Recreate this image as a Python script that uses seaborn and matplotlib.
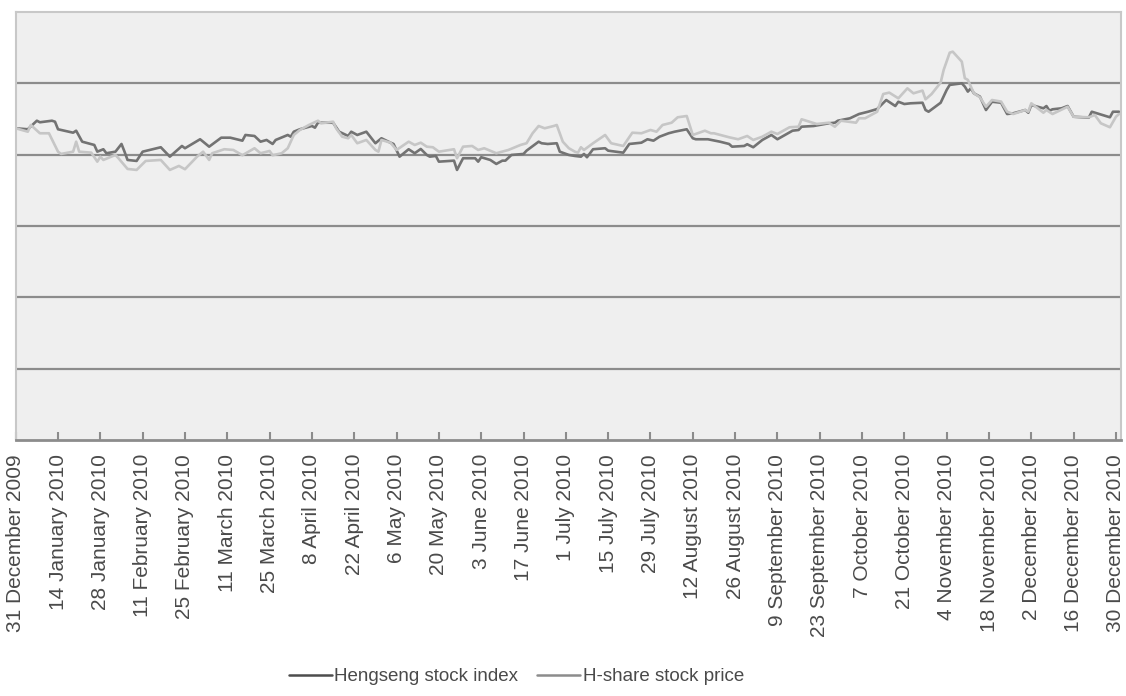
import matplotlib
matplotlib.use("Agg")
import matplotlib.pyplot as plt
import seaborn as sns
import pandas as pd

# ---------------- data ----------------
series_names = ["Hengseng stock index", "H-share stock price"]

hsi_dates = [
    "2009-12-31", "2010-01-04", "2010-01-07", "2010-01-08", "2010-01-12", "2010-01-13", "2010-01-14",
    "2010-01-19", "2010-01-20", "2010-01-22", "2010-01-26", "2010-01-27", "2010-01-29", "2010-01-30",
    "2010-02-02", "2010-02-04", "2010-02-05", "2010-02-06", "2010-02-09", "2010-02-11", "2010-02-17",
    "2010-02-20", "2010-02-24", "2010-02-25", "2010-03-02", "2010-03-03", "2010-03-05", "2010-03-09",
    "2010-03-12", "2010-03-16", "2010-03-17", "2010-03-20", "2010-03-22", "2010-03-24", "2010-03-26",
    "2010-03-27", "2010-03-31", "2010-04-01", "2010-04-02", "2010-04-04", "2010-04-08", "2010-04-09",
    "2010-04-10", "2010-04-15", "2010-04-16", "2010-04-17", "2010-04-20", "2010-04-21", "2010-04-23",
    "2010-04-26", "2010-04-29", "2010-05-01", "2010-05-04", "2010-05-05", "2010-05-07", "2010-05-10",
    "2010-05-12", "2010-05-14", "2010-05-16", "2010-05-17", "2010-05-19", "2010-05-20", "2010-05-25",
    "2010-05-26", "2010-05-28", "2010-06-01", "2010-06-02", "2010-06-03", "2010-06-06", "2010-06-08",
    "2010-06-10", "2010-06-11", "2010-06-13", "2010-06-17", "2010-06-18", "2010-06-22", "2010-06-23",
    "2010-06-25", "2010-06-28", "2010-06-29", "2010-07-02", "2010-07-04", "2010-07-06", "2010-07-07",
    "2010-07-08", "2010-07-10", "2010-07-14", "2010-07-15", "2010-07-20", "2010-07-22", "2010-07-26",
    "2010-07-28", "2010-07-30", "2010-08-01", "2010-08-04", "2010-08-06", "2010-08-10", "2010-08-12",
    "2010-08-13", "2010-08-17", "2010-08-21", "2010-08-24", "2010-08-25", "2010-08-29", "2010-08-30",
    "2010-09-01", "2010-09-04", "2010-09-07", "2010-09-09", "2010-09-14", "2010-09-16", "2010-09-17",
    "2010-09-21", "2010-09-26", "2010-09-28", "2010-09-29", "2010-10-03", "2010-10-06", "2010-10-09",
    "2010-10-12", "2010-10-15", "2010-10-18", "2010-10-19", "2010-10-21", "2010-10-23", "2010-10-27",
    "2010-10-28", "2010-10-29", "2010-11-02", "2010-11-04", "2010-11-05", "2010-11-09", "2010-11-10",
    "2010-11-11", "2010-11-12", "2010-11-13", "2010-11-15", "2010-11-17", "2010-11-19", "2010-11-22",
    "2010-11-24", "2010-11-26", "2010-11-30", "2010-12-01", "2010-12-02", "2010-12-06", "2010-12-07",
    "2010-12-08", "2010-12-09", "2010-12-12", "2010-12-14", "2010-12-16", "2010-12-21", "2010-12-22",
    "2010-12-28", "2010-12-29", "2010-12-31",
]
hsi_values = [
    21850, 21780, 22380, 22270, 22380, 22310, 21780,
    21540, 21680, 20910, 20680, 20210, 20380, 20100,
    20210, 20750, 20210, 19630, 19560, 20210, 20520,
    19860, 20610, 20450, 21080, 20910, 20560, 21190,
    21190, 20980, 21380, 21310, 20910, 21030, 20750,
    21030, 21380, 21260, 21610, 21780, 22010, 21890,
    22240, 22240, 21920, 21610, 21310, 21610, 21380,
    21610, 20800, 21150, 20840, 20750, 19860, 20380,
    20100, 20400, 19980, 19860, 19910, 19510, 19580,
    18930, 19750, 19750, 19510, 19820, 19630, 19350,
    19580, 19580, 19980, 20050, 20280, 20910, 20800,
    20750, 20800, 20210, 19980, 19910, 19860, 20050,
    19820, 20380, 20450, 20280, 20140, 20750, 20840,
    21080, 20980, 21260, 21500, 21610, 21780, 21150,
    21080, 21080, 20910, 20750, 20560, 20610, 20730,
    20520, 21030, 21380, 21080, 21680, 21730, 21960,
    22010, 22200, 22240, 22380, 22550, 22850, 23010,
    23200, 23830, 23410, 23710, 23550, 23600, 23640,
    23130, 23010, 23640, 24540, 24890, 25000, 24770,
    24420, 24650, 24300, 24070, 23130, 23710, 23640,
    22850, 22900, 23130, 22940, 23480, 23250, 23410,
    23080, 23180, 23250, 23410, 22660, 22590, 23010,
    22620, 23010, 23010,
]

hshare_dates = [
    "2009-12-31", "2010-01-04", "2010-01-05", "2010-01-08", "2010-01-11", "2010-01-14", "2010-01-15",
    "2010-01-19", "2010-01-20", "2010-01-21", "2010-01-25", "2010-01-27", "2010-01-28", "2010-01-29",
    "2010-02-02", "2010-02-03", "2010-02-06", "2010-02-09", "2010-02-12", "2010-02-17", "2010-02-20",
    "2010-02-23", "2010-02-25", "2010-03-01", "2010-03-03", "2010-03-05", "2010-03-06", "2010-03-10",
    "2010-03-13", "2010-03-16", "2010-03-20", "2010-03-22", "2010-03-25", "2010-03-26", "2010-03-29",
    "2010-03-31", "2010-04-02", "2010-04-04", "2010-04-07", "2010-04-10", "2010-04-11", "2010-04-15",
    "2010-04-16", "2010-04-18", "2010-04-20", "2010-04-21", "2010-04-23", "2010-04-26", "2010-04-29",
    "2010-04-30", "2010-05-01", "2010-05-04", "2010-05-06", "2010-05-10", "2010-05-12", "2010-05-14",
    "2010-05-16", "2010-05-18", "2010-05-20", "2010-05-25", "2010-05-26", "2010-05-28", "2010-05-31",
    "2010-06-02", "2010-06-04", "2010-06-08", "2010-06-12", "2010-06-16", "2010-06-18", "2010-06-20",
    "2010-06-22", "2010-06-24", "2010-06-27", "2010-06-28", "2010-06-30", "2010-07-02", "2010-07-04",
    "2010-07-05", "2010-07-06", "2010-07-07", "2010-07-10", "2010-07-14", "2010-07-16", "2010-07-20",
    "2010-07-23", "2010-07-26", "2010-07-29", "2010-07-31", "2010-08-02", "2010-08-05", "2010-08-07",
    "2010-08-10", "2010-08-12", "2010-08-16", "2010-08-18", "2010-08-19", "2010-08-24", "2010-08-27",
    "2010-08-30", "2010-09-01", "2010-09-04", "2010-09-07", "2010-09-09", "2010-09-13", "2010-09-16",
    "2010-09-17", "2010-09-22", "2010-09-26", "2010-09-28", "2010-09-30", "2010-10-05", "2010-10-06",
    "2010-10-08", "2010-10-12", "2010-10-14", "2010-10-16", "2010-10-19", "2010-10-22", "2010-10-24",
    "2010-10-27", "2010-10-28", "2010-10-30", "2010-11-02", "2010-11-03", "2010-11-05", "2010-11-06",
    "2010-11-09", "2010-11-10", "2010-11-11", "2010-11-13", "2010-11-15", "2010-11-17", "2010-11-19",
    "2010-11-22", "2010-11-24", "2010-11-26", "2010-11-30", "2010-12-01", "2010-12-02", "2010-12-06",
    "2010-12-07", "2010-12-09", "2010-12-14", "2010-12-16", "2010-12-21", "2010-12-23", "2010-12-25",
    "2010-12-28", "2010-12-30", "2010-12-31",
]
hshare_values = [
    21850, 21610, 22080, 21500, 21500, 20210, 20050,
    20210, 20910, 20210, 20140, 19510, 19860, 19630,
    19980, 19750, 19000, 18930, 19560, 19630, 18930,
    19210, 18980, 19860, 20210, 19630, 20100, 20380,
    20330, 19960, 20450, 20100, 20260, 19960, 20100,
    20450, 21380, 21730, 22080, 22380, 22200, 22310,
    21850, 21260, 21150, 21380, 20800, 21030, 20330,
    20210, 21030, 20840, 20330, 20910, 20680, 20840,
    20560, 20520, 20210, 20380, 19750, 20560, 20610,
    20330, 20450, 20100, 20330, 20680, 20800, 21500,
    22010, 21850, 22010, 22080, 20910, 20450, 20210,
    20140, 20520, 20330, 20800, 21380, 20800, 20610,
    21540, 21500, 21730, 21610, 22080, 22240, 22620,
    22710, 21380, 21680, 21500, 21500, 21220, 21080,
    21310, 21030, 21260, 21610, 21450, 21920, 21960,
    22480, 22150, 22240, 21960, 22380, 22240, 22550,
    22550, 23010, 24250, 24350, 23950, 24650, 24300,
    24490, 23880, 24250, 25050, 25940, 27150, 27220,
    26520, 25360, 25240, 24300, 24020, 23360, 23830,
    23720, 23010, 22850, 23130, 23010, 23600, 22940,
    23130, 22850, 23360, 22660, 22620, 22780, 22200,
    21920, 22660, 22850,
]

tick_labels = [
    "31 December 2009", "14 January 2010", "28 January 2010", "11 February 2010",
    "25 February 2010", "11 March 2010", "25 March 2010", "8 April 2010", "22 April 2010",
    "6 May 2010", "20 May 2010", "3 June 2010", "17 June 2010", "1 July 2010",
    "15 July 2010", "29 July 2010", "12 August 2010", "26 August 2010",
    "9 September 2010", "23 September 2010", "7 October 2010", "21 October 2010",
    "4 November 2010", "18 November 2010", "2 December 2010", "16 December 2010",
    "30 December 2010",
]
grid_values = [5000, 10000, 15000, 20000, 25000]

# ---------------- build frame ----------------
df = pd.concat([
    pd.DataFrame({"date": pd.to_datetime(hsi_dates), "value": hsi_values,
                  "series": series_names[0]}),
    pd.DataFrame({"date": pd.to_datetime(hshare_dates), "value": hshare_values,
                  "series": series_names[1]}),
], ignore_index=True)

# ---------------- style ----------------
sns.set_theme(style="white")
plt.rcParams["font.family"] = ["Liberation Sans", "DejaVu Sans"]

fig = plt.figure(figsize=(11.26, 6.96), dpi=100)
L, R, T, B = 15.7 / 1126, 1121 / 1126, 1 - 12 / 696, 1 - 440 / 696
ax = fig.add_axes([L, B, R - L, T - B])
ax.set_facecolor("#efefef")

line_colors = {series_names[0]: "#737373", series_names[1]: "#c6c6c6"}
sns.lineplot(data=df, x="date", y="value", hue="series", palette=line_colors,
             hue_order=series_names, linewidth=1.9, ax=ax, legend=True,
             estimator=None, sort=True)

ax.set_ylim(0, 30000)
ax.set_yticks(grid_values)
ax.set_yticklabels([])
ax.tick_params(axis="y", length=0)
ax.yaxis.grid(True, color="#8c8c8c", linewidth=1.6)
ax.xaxis.grid(False)
ax.set_axisbelow(True)

tick_pos = pd.to_datetime(tick_labels, format="%d %B %Y")
ax.set_xlim(pd.Timestamp("2009-12-31"), pd.Timestamp("2010-12-31 16:00"))
ax.set_xticks(tick_pos)
ax.set_xticklabels(tick_labels, rotation=90, fontsize=15, color="#4a4a4a")
ax.tick_params(axis="x", direction="in", length=6, width=1.5, color="#8c8c8c",
               pad=10, bottom=True)
ax.set_xlabel("")
ax.set_ylabel("")

for s in ["top", "left", "right"]:
    ax.spines[s].set_color("#c8c8c8")
    ax.spines[s].set_linewidth(1.5)
ax.spines["bottom"].set_color("#8c8c8c")
ax.spines["bottom"].set_linewidth(2)

leg = ax.legend(loc="center", bbox_to_anchor=(0.4587, 0.028),
                bbox_transform=fig.transFigure, ncol=2, frameon=False,
                fontsize=13.5, handlelength=2.3, handletextpad=0.15,
                columnspacing=1.0, labelcolor="#4a4a4a")
for h, c in zip(leg.legend_handles, ["#4d4d4d", "#8c8c8c"]):
    h.set_color(c)
    h.set_linewidth(1.8)

fig.savefig("out.png", dpi=100)
